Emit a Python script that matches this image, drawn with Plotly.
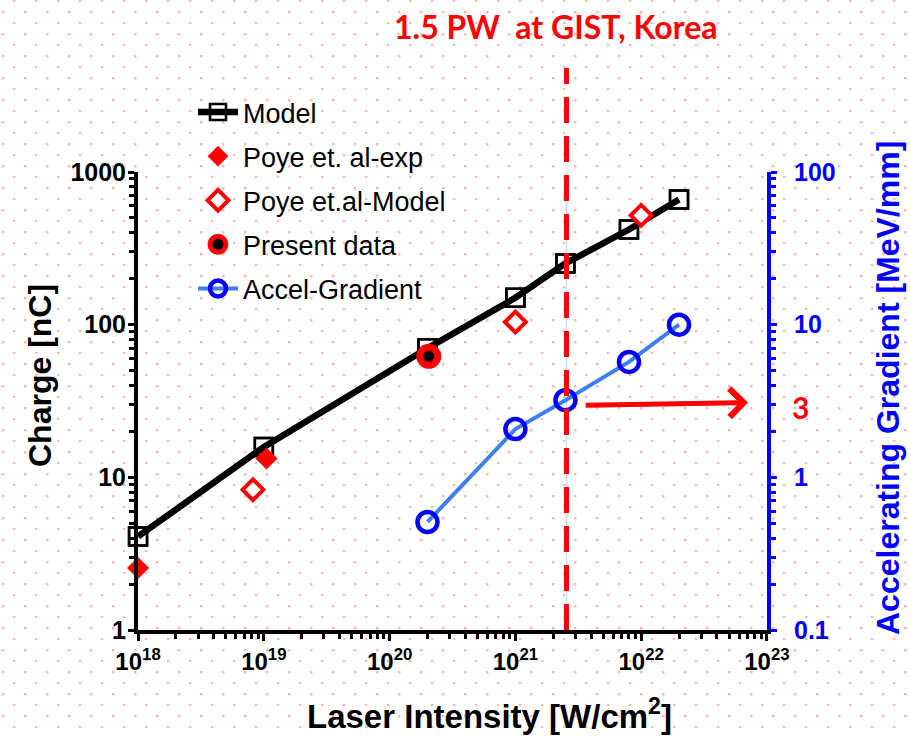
import base64
import math
import plotly.graph_objects as go

# ---------------- data ----------------
model_x = [1e18, 1e19, 2e20, 1e21, 2.5e21, 8e21, 2e22]
model_y = [4.1, 15.8, 70, 150, 252, 420, 660]

poye_exp_x = [1e18, 1.05e19]
poye_exp_y = [2.55, 13.3]

poye_model_x = [8.2e18, 1e21, 1e22]
poye_model_y = [8.3, 104, 520]

present_x = [2.05e20]
present_y = [62]

grad_x = [2e20, 1e21, 2.5e21, 8e21, 2e22]
grad_y = [0.51, 2.07, 3.2, 5.7, 10]

gist_x = 2.55e21
arrow_value = 3

x_tickvals = [1e18, 1e19, 1e20, 1e21, 1e22, 1e23]
x_ticktext = ["10<sup>18</sup>", "10<sup>19</sup>", "10<sup>20</sup>",
              "10<sup>21</sup>", "10<sup>22</sup>", "10<sup>23</sup>"]
y_tickvals = [1, 10, 100, 1000]
y_ticktext = ["1", "10", "100", "1000"]
y2_tickvals = [0.1, 1, 10, 100]
y2_ticktext = ["0.1", "1", "10", "100"]

# ---------------- geometry ----------------
W, H = 911, 736
L, R, T, B = 138, 144, 172, 106
PW, PH = W - L - R, H - T - B

def px(xp):
    return (xp - L) / PW

def py(yp):
    return (H - B - yp) / PH

ARIAL = "Liberation Sans, Arial, sans-serif"
CAL = "Lato, Carlito, sans-serif"

fig = go.Figure()

fig.add_trace(go.Scatter(
    x=model_x, y=model_y, mode="markers", legendgroup="model", showlegend=False,
    marker=dict(symbol="square", size=18, color="white", line=dict(color="black", width=2.5)),
    cliponaxis=False, hoverinfo="skip"))
fig.add_trace(go.Scatter(
    x=model_x, y=model_y, mode="lines+markers", name="Model", legendgroup="model",
    line=dict(color="black", width=6.5),
    marker=dict(symbol="square-open", size=18, color="black", line=dict(color="black", width=2.5)),
    cliponaxis=False))
fig.add_trace(go.Scatter(
    x=poye_exp_x, y=poye_exp_y, mode="markers", name="Poye et. al-exp", legendgroup="pexp",
    marker=dict(symbol="diamond", size=17, color="#ff0000", line=dict(width=0)),
    cliponaxis=False))
fig.add_trace(go.Scatter(
    x=poye_model_x, y=poye_model_y, mode="markers", name="Poye et.al-Model", legendgroup="pmod",
    marker=dict(symbol="diamond", size=16, color="white", line=dict(color="#ff0000", width=4)),
    cliponaxis=False))
fig.add_trace(go.Scatter(
    x=present_x, y=present_y, mode="markers", name="Present data", legendgroup="pres",
    marker=dict(symbol="circle", size=18, color="black", line=dict(color="#ff0000", width=7)),
    cliponaxis=False))
fig.add_trace(go.Scatter(
    x=grad_x, y=grad_y, mode="lines+markers", name="Accel-Gradient", legendgroup="grad",
    yaxis="y2",
    line=dict(color="#3d7ff0", width=4),
    marker=dict(symbol="circle-open", size=20, color="#0000ff", line=dict(color="#0000ff", width=4.5)),
    cliponaxis=False))

# background dotted pattern
svg = ('<svg xmlns="http://www.w3.org/2000/svg" width="911" height="736">'
       '<defs><pattern id="p" width="22" height="22" patternUnits="userSpaceOnUse">'
       '<rect x="13" y="0" width="2.4" height="2" fill="#ffb4b4"/>'
       '<rect x="2" y="11" width="2.4" height="2.4" fill="#ffb4b4"/>'
       '</pattern></defs><rect width="911" height="736" fill="url(#p)"/></svg>')
src = "data:image/svg+xml;base64," + base64.b64encode(svg.encode()).decode()

lx = math.log10(gist_x)


def label(text, xp, yp, size, color, family=ARIAL, angle=0):
    return dict(text=text, xref="paper", yref="paper", x=px(xp), y=py(yp),
                xanchor="center", yanchor="middle", textangle=angle, showarrow=False,
                font=dict(family=family, size=size, color=color, weight="bold"))


fig.update_layout(
    width=W, height=H, autosize=False,
    margin=dict(l=L, r=R, t=T, b=B, pad=0),
    paper_bgcolor="white", plot_bgcolor="rgba(0,0,0,0)",
    images=[dict(source=src, xref="paper", yref="paper", x=px(0), y=py(0),
                 sizex=W / PW, sizey=H / PH, xanchor="left", yanchor="top",
                 sizing="stretch", layer="below")],
    showlegend=True,
    legend=dict(x=px(193), y=py(88), xanchor="left", yanchor="top",
                bgcolor="rgba(0,0,0,0)", font=dict(family=ARIAL, size=27, color="black"),
                traceorder="grouped", tracegroupgap=6, itemwidth=40),
    xaxis=dict(type="log", range=[17.9995, 23.0005], showgrid=False, zeroline=False,
               showline=True, linewidth=4, linecolor="black",
               ticks="outside", ticklen=7, tickwidth=3, tickcolor="black",
               tickvals=x_tickvals, ticktext=x_ticktext,
               tickfont=dict(family=ARIAL, size=24, color="black", weight="bold"),
               minor=dict(ticks="outside", ticklen=5, tickwidth=2.5, tickcolor="black",
                          dtick="D1", showgrid=False)),
    yaxis=dict(type="log", range=[0, 3], showgrid=False, zeroline=False,
               showline=True, linewidth=4, linecolor="black",
               ticks="outside", ticklen=6, tickwidth=3, tickcolor="black",
               tickvals=y_tickvals, ticktext=y_ticktext, ticklabelstandoff=-3,
               tickfont=dict(family=ARIAL, size=25, color="black", weight="bold"),
               minor=dict(ticks="outside", ticklen=5, tickwidth=2.5, tickcolor="black",
                          dtick="D1", showgrid=False)),
    yaxis2=dict(type="log", range=[-1, 2], overlaying="y", side="right",
                showgrid=False, zeroline=False,
                showline=True, linewidth=4, linecolor="#0000ff",
                ticks="outside", ticklen=6, tickwidth=3, tickcolor="#0000ff",
                tickvals=y2_tickvals, ticktext=y2_ticktext, ticklabelstandoff=12,
                tickfont=dict(family=ARIAL, size=25, color="#0000ff", weight="bold"),
                minor=dict(ticks="outside", ticklen=5, tickwidth=2.5, tickcolor="#0000ff",
                           dtick="D1", showgrid=False)),
    shapes=[
        dict(type="line", xref="x", yref="paper", x0=gist_x, x1=gist_x, y0=0, y1=1,
             line=dict(color="#c8e4e6", width=1.5), layer="below"),
        dict(type="line", xref="x", yref="paper", x0=gist_x, x1=gist_x, y0=0, y1=py(68),
             line=dict(color="#ff0000", width=5, dash="26px,13px")),
    ],
    annotations=[
        label("1.5 PW  at GIST, Korea", 556, 26, 32, "#ff0000", CAL),
        label("Charge [nC]", 40, 376, 32, "black", angle=-90),
        label("Accelerating Gradient [MeV/mm]", 888, 388, 32, "#0000ff", angle=-90),
        label("Laser Intensity [W/cm<sup>2</sup>]", 489, 714, 33, "black"),
        label(str(arrow_value), 801, 407, 30, "#ff0000", CAL),
        dict(text="", xref="x", yref="y2", x=22.85, y=math.log10(arrow_value * 1.03),
             axref="x", ayref="y2", ax=lx + 0.14, ay=math.log10(arrow_value * 0.99),
             showarrow=True, arrowhead=4, arrowsize=1.1, arrowwidth=5, arrowcolor="#ff0000"),
    ],
)

fig.write_html("out.html")
